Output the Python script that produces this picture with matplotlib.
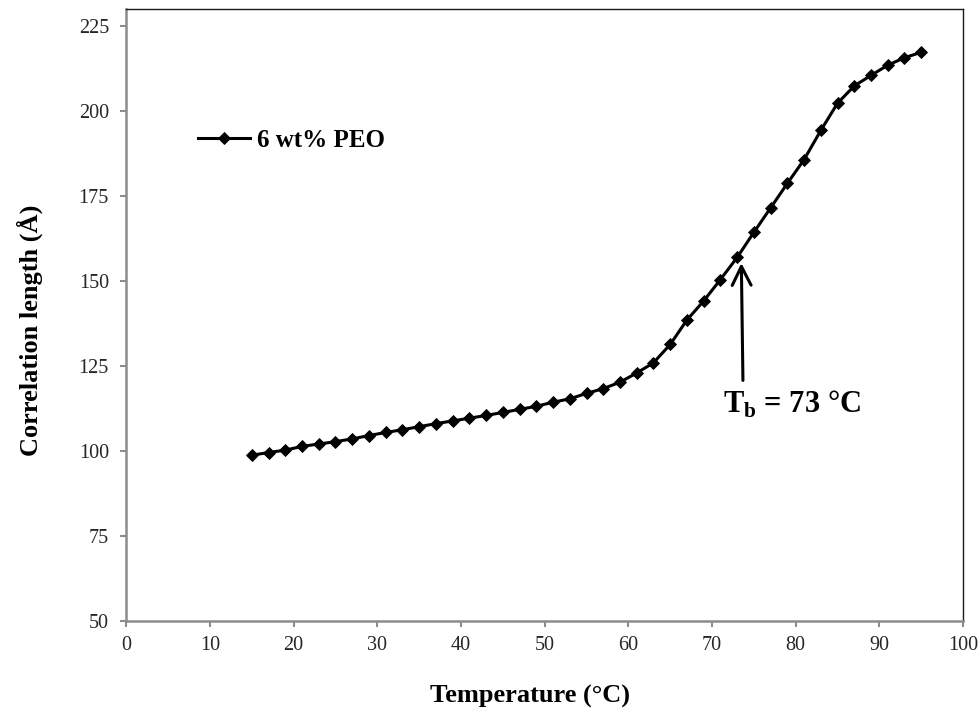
import matplotlib.pyplot as plt

plt.rcParams['font.family'] = ['Liberation Serif', 'DejaVu Serif']
plt.rcParams['mathtext.fontset'] = 'custom'
plt.rcParams['mathtext.rm'] = 'Liberation Serif'
plt.rcParams['mathtext.bf'] = 'Liberation Serif:bold'

# correlation length vs temperature, 6 wt% PEO
temperature = [15, 17, 19, 21, 23, 25, 27, 29, 31, 33, 35, 37, 39, 41,
               43, 45, 47, 49, 51, 53, 55, 57, 59, 61, 63, 65, 67, 69,
               71, 73, 75, 77, 79, 81, 83, 85, 87, 89, 91, 93, 95]
corr_length = [98.8, 99.6, 100.3, 101.4, 102.1, 102.8, 103.6, 104.6, 105.5,
               106.3, 107.2, 108.1, 108.9, 109.7, 110.5, 111.4, 112.3, 113.2,
               114.4, 115.4, 117.0, 118.4, 120.3, 123.0, 126.0, 131.4, 138.6,
               144.2, 150.5, 157.0, 164.4, 171.6, 178.8, 185.8, 194.4, 202.4,
               207.5, 210.6, 213.6, 215.8, 217.4]
x_ticks = [0, 10, 20, 30, 40, 50, 60, 70, 80, 90, 100]
y_ticks = [50, 75, 100, 125, 150, 175, 200, 225]
t_break = 73

fig = plt.figure(figsize=(9.79, 7.13), dpi=100)
ax = fig.add_axes([0.129, 0.129, 0.8547, 0.8577])

ax.plot(temperature, corr_length, color='black', lw=2.2, marker='D',
        markersize=6.4, mew=0.6, label='6 wt% PEO')

ax.set_xlim(0, 100)
ax.set_ylim(50, 230)
ax.set_xticks(x_ticks)
ax.set_yticks(y_ticks)

for side in ['left', 'bottom']:
    ax.spines[side].set_color('#8c8c8c')
    ax.spines[side].set_linewidth(1.8)
for side in ['top', 'right']:
    ax.spines[side].set_color('#1a1a1a')
    ax.spines[side].set_linewidth(1.0)

ax.tick_params(axis='both', direction='out', length=4.5, width=1.5,
               color='#8c8c8c', labelsize=14.5, labelcolor='#262626')
ax.tick_params(axis='y', pad=8)
ax.tick_params(axis='x', pad=6)

ax.set_xlabel('Temperature (°C)', fontsize=19, fontweight='bold', va='center')
ax.xaxis.set_label_coords(0.482, -0.124)
ax.set_ylabel('Correlation length (Å)', fontsize=19, fontweight='bold',
              va='center')
ax.yaxis.set_label_coords(-0.115, 0.476)

# arrow marking the break temperature
ax.annotate('', xy=(73.5, 156.2), xytext=(73.7, 120.0),
            arrowprops=dict(arrowstyle='->', color='black', lw=2.2,
                            mutation_scale=34))
ax.text(71.3, 111.4, r'T$_{\mathbf{b}}$ = %d °C' % t_break, fontsize=22,
        fontweight='bold', ha='left', va='baseline')

leg = ax.legend(loc='center left', bbox_to_anchor=(0.0856, 0.7855),
                frameon=False, fontsize=18, handlelength=2.1,
                handletextpad=0.25, borderpad=0, borderaxespad=0)
for t in leg.get_texts():
    t.set_fontweight('bold')

fig.savefig('out.png', dpi=100)
